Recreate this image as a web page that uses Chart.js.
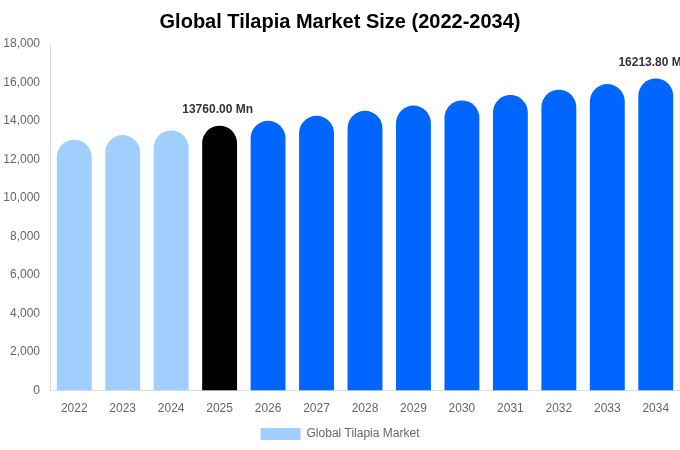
<!DOCTYPE html>
<html>
<head>
<meta charset="utf-8">
<script src="https://cdn.jsdelivr.net/npm/chart.js@4.4.1/dist/chart.umd.min.js"></script>
<style>
  html, body { margin: 0; padding: 0; background: #fff; }
  #wrap { width: 680px; height: 450px; }
</style>
</head>
<body>
<div id="wrap"><canvas id="tilapiaChart"></canvas></div>
<script>
const years = ['2022', '2023', '2024', '2025', '2026', '2027', '2028', '2029', '2030', '2031', '2032', '2033', '2034'];
const marketSize = [13030, 13270, 13510, 13760, 14010, 14270, 14530, 14800, 15070, 15350, 15630, 15920, 16213.8];
const barColors = ['#a0cefd', '#a0cefd', '#a0cefd', '#000000', '#0066ff', '#0066ff', '#0066ff', '#0066ff', '#0066ff', '#0066ff', '#0066ff', '#0066ff', '#0066ff'];
const labelledYears = ['2025', '2034'];

Chart.defaults.font.family = '"Liberation Sans", Arial, sans-serif';
Chart.defaults.color = '#666';

// value labels above the chosen bars
const valueLabels = {
    id: 'valueLabels',
    afterDatasetsDraw(chart) {
        const ctx = chart.ctx;
        const meta = chart.getDatasetMeta(0);
        ctx.save();
        ctx.font = 'bold 12px "Liberation Sans", Arial, sans-serif';
        ctx.fillStyle = '#333';
        ctx.textAlign = 'center';
        ctx.textBaseline = 'bottom';
        meta.data.forEach((bar, i) => {
            if (!labelledYears.includes(years[i])) return;
            ctx.fillText(marketSize[i].toFixed(2) + ' Mn', bar.x - 2, bar.y - 10);
        });
        ctx.restore();
    }
};

let ctx = document.getElementById('tilapiaChart').getContext('2d');

new Chart(ctx, {
    type: 'bar',
    data: {
        labels: years,
        datasets: [{
            label: 'Global Tilapia Market',
            data: marketSize,
            backgroundColor: barColors,
            borderRadius: 18,
            barPercentage: 0.72,
            categoryPercentage: 1
        }]
    },
    options: {
        responsive: true,
        maintainAspectRatio: false,
        animation: false,
        layout: {
            padding: { left: 0, right: 0, top: 0, bottom: 0 }
        },
        plugins: {
            title: {
                display: true,
                text: 'Global Tilapia Market Size (2022-2034)',
                color: '#000',
                font: { size: 20, weight: 'bold' },
                padding: { top: 10, bottom: 10 }
            },
            legend: {
                position: 'bottom',
                labels: {
                    boxWidth: 40,
                    boxHeight: 12,
                    color: '#666',
                    font: { size: 12 },
                    padding: 9
                }
            },
            tooltip: { enabled: false }
        },
        scales: {
            x: {
                grid: { display: false },
                border: { color: '#ddd' },
                ticks: { color: '#666', font: { size: 12 }, padding: 3 }
            },
            y: {
                min: 0,
                max: 18000,
                afterFit(scale) { scale.width = 50; },
                ticks: { stepSize: 2000, color: '#666', font: { size: 12 }, padding: 2 },
                grid: { display: false },
                border: { color: '#ddd' }
            }
        }
    },
    plugins: [valueLabels]
});
</script>
</body>
</html>
